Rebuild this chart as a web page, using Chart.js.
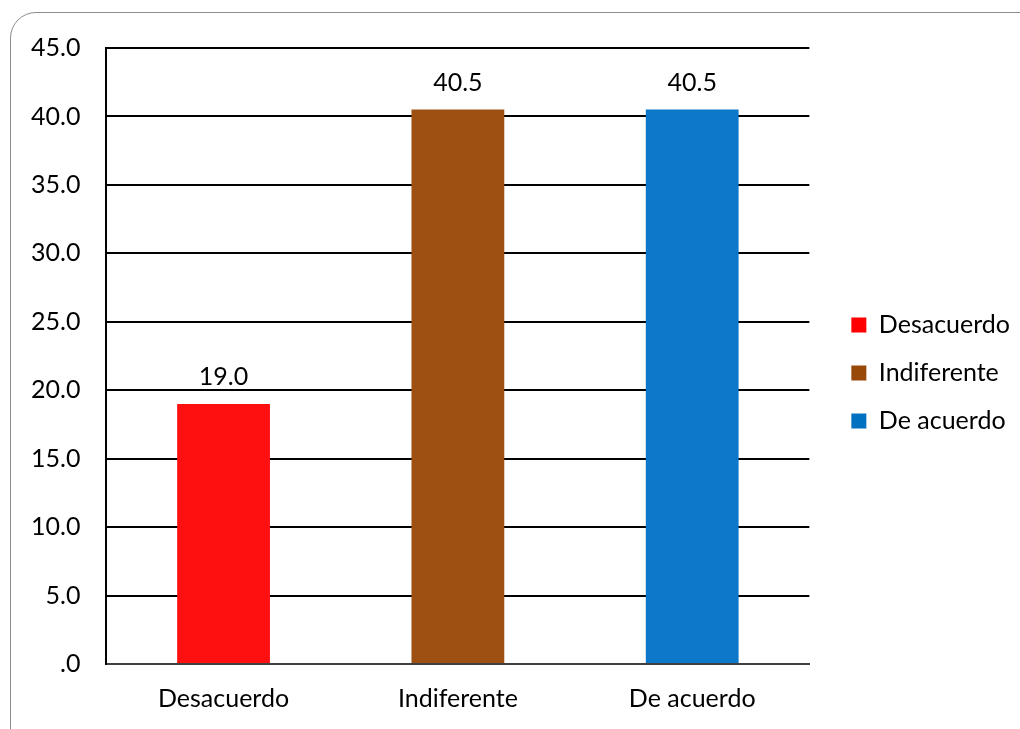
<!DOCTYPE html>
<html lang="es">
<head>
  <meta charset="utf-8">
  <title>Desacuerdo / Indiferente / De acuerdo</title>
  <script src="https://cdn.jsdelivr.net/npm/chart.js"></script>
  <style>
    html, body { margin: 0; padding: 0; background: #fff; overflow: hidden; }
    .frame {
      position: absolute; left: 10px; top: 12px;
      width: 1040px; height: 760px;
      border: 1.5px solid #8c8c8c; border-radius: 26px;
    }
    #chart { position: absolute; left: 0; top: 0; }
  </style>
</head>
<body>
<div class="frame"></div>
<canvas id="chart" width="1020" height="729"></canvas>
<script>
  const categories = ['Desacuerdo', 'Indiferente', 'De acuerdo'];
  const percentages = [19.0, 40.5, 40.5];
  const barColors = ['#fe0f10', '#9d5012', '#0d77c9'];
  const legendColors = ['#ff0000', '#984807', '#0070c0'];

  const font = { family: 'Lato', size: 25 };

  // ".0" for zero, one decimal otherwise
  function fmt(v) {
    const s = Number(v).toFixed(1);
    return s.startsWith('0.') ? s.slice(1) : s;
  }

  // value printed above each bar
  const barValues = {
    id: 'barValues',
    afterDatasetsDraw(chart) {
      const ctx = chart.ctx;
      const meta = chart.getDatasetMeta(0);
      ctx.save();
      ctx.font = font.size + 'px ' + font.family;
      ctx.fillStyle = '#000';
      ctx.textAlign = 'center';
      ctx.textBaseline = 'middle';
      meta.data.forEach((bar, i) => {
        ctx.fillText(fmt(percentages[i]), bar.x, bar.y - 27);
      });
      ctx.restore();
    }
  };

  new Chart(document.getElementById('chart'), {
    type: 'bar',
    data: {
      labels: categories,
      datasets: [{
        data: percentages,
        backgroundColor: barColors,
        barPercentage: 0.396,
        categoryPercentage: 1
      }]
    },
    options: {
      responsive: false,
      animation: false,
      layout: { padding: { left: 5, top: 20, right: 0, bottom: 3 } },
      plugins: {
        tooltip: { enabled: false },
        legend: {
          position: 'right',
          maxWidth: 240,
          labels: {
            font: font,
            color: '#000',
            boxWidth: 15,
            boxHeight: 15,
            padding: 23,
            generateLabels: () => categories.map((c, i) => ({
              text: c,
              fillStyle: legendColors[i],
              strokeStyle: legendColors[i],
              lineWidth: 0,
              index: i
            }))
          }
        }
      },
      scales: {
        x: {
          grid: { display: false },
          border: { color: '#404040', width: 2 },
          ticks: { font: font, color: '#000', padding: 12 }
        },
        y: {
          min: 0,
          max: 45,
          ticks: { stepSize: 5, font: font, color: '#000', padding: 26, callback: v => fmt(v) },
          grid: { color: '#000', lineWidth: 2, drawTicks: false },
          border: { color: '#000', width: 2 }
        },
        // empty strips: above the plot and between plot and legend
        gapTop: {
          position: 'top',
          grid: { display: false },
          border: { display: false },
          ticks: { display: false },
          afterFit: s => { s.height = 28; }
        },
        gap: {
          position: 'right',
          grid: { display: false },
          border: { display: false },
          ticks: { display: false },
          afterFit: s => { s.width = 19; }
        }
      }
    },
    plugins: [barValues]
  });
</script>
</body>
</html>
